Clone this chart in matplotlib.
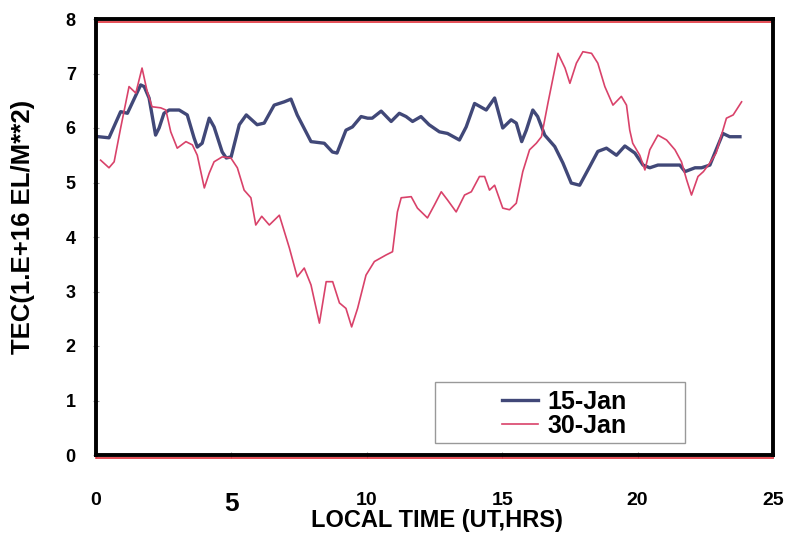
import matplotlib
matplotlib.use("Agg")
import matplotlib.pyplot as plt
from matplotlib.patches import Rectangle
from matplotlib.transforms import offset_copy

# ---- data ----
jan15_t = [0.1, 0.48, 0.91, 1.16, 1.65, 1.78, 1.96, 2.2, 2.33, 2.51, 2.7, 3.07, 3.37,
           3.62, 3.74, 3.92, 4.18, 4.36, 4.66, 4.81, 4.99, 5.29, 5.55, 5.95, 6.21,
           6.58, 6.95, 7.2, 7.43, 7.94, 8.43, 8.73, 8.9, 9.23, 9.47, 9.79, 10.03,
           10.2, 10.53, 10.9, 11.2, 11.45, 11.69, 12.0, 12.3, 12.68, 12.98, 13.42,
           13.67, 13.98, 14.41, 14.72, 15.02, 15.33, 15.52, 15.72, 15.89, 16.13,
           16.31, 16.57, 16.94, 17.24, 17.55, 17.86, 18.23, 18.53, 18.85, 19.22,
           19.53, 19.9, 20.2, 20.45, 20.75, 21.2, 21.56, 21.75, 22.12, 22.36,
           22.67, 22.9, 23.15, 23.4, 23.78]
jan15_v = [5.84, 5.82, 6.30, 6.27, 6.79, 6.76, 6.55, 5.87, 6.00, 6.27, 6.33, 6.33, 6.24,
           5.82, 5.65, 5.72, 6.18, 6.02, 5.56, 5.45, 5.47, 6.06, 6.24, 6.06, 6.09,
           6.42, 6.48, 6.53, 6.24, 5.75, 5.72, 5.56, 5.54, 5.96, 6.02, 6.21, 6.18,
           6.18, 6.31, 6.12, 6.27, 6.21, 6.12, 6.21, 6.06, 5.93, 5.90, 5.78,
           6.02, 6.45, 6.33, 6.55, 6.00, 6.15, 6.09, 5.75, 5.96, 6.33,
           6.21, 5.87, 5.66, 5.36, 4.99, 4.95, 5.29, 5.57, 5.63, 5.50,
           5.67, 5.54, 5.32, 5.27, 5.32, 5.32, 5.32, 5.20, 5.27, 5.27,
           5.32, 5.60, 5.90, 5.84, 5.84]

jan30_t = [0.17, 0.48, 0.67, 0.91, 1.22, 1.47, 1.7, 1.89, 2.07, 2.39, 2.58, 2.76, 3.0,
           3.32, 3.56, 3.74, 4.0, 4.18, 4.36, 4.66, 4.98, 5.22, 5.47, 5.72, 5.9,
           6.12, 6.4, 6.77, 7.14, 7.43, 7.69, 7.94, 8.25, 8.5, 8.74, 8.99, 9.23,
           9.44, 9.66, 9.97, 10.28, 10.71, 10.95, 11.13, 11.27, 11.64, 11.87, 12.24,
           12.5, 12.75, 12.98, 13.3, 13.61, 13.86, 14.16, 14.35, 14.53, 14.72,
           15.02, 15.27, 15.52, 15.76, 16.01, 16.26, 16.45, 16.69, 17.06, 17.32,
           17.5, 17.74, 17.98, 18.3, 18.53, 18.79, 19.09, 19.4, 19.59, 19.71,
           19.82, 20.08, 20.27, 20.45, 20.75, 21.07, 21.38, 21.62, 21.81, 21.99,
           22.23, 22.43, 22.67, 22.9, 23.15, 23.28, 23.53, 23.84]
jan30_v = [5.41, 5.27, 5.38, 6.00, 6.76, 6.64, 7.10, 6.67, 6.39, 6.37, 6.33, 5.93, 5.63,
           5.75, 5.69, 5.50, 4.90, 5.17, 5.38, 5.47, 5.45, 5.27, 4.86, 4.72, 4.22,
           4.38, 4.22, 4.40, 3.80, 3.27, 3.43, 3.12, 2.42, 3.18, 3.18, 2.79, 2.69,
           2.35, 2.69, 3.30, 3.55, 3.67, 3.73, 4.46, 4.72, 4.74, 4.53, 4.35,
           4.59, 4.83, 4.68, 4.46, 4.77, 4.83, 5.11, 5.11, 4.86, 4.95,
           4.53, 4.50, 4.62, 5.20, 5.60, 5.72, 5.84, 6.46, 7.37, 7.10,
           6.82, 7.19, 7.40, 7.37, 7.19, 6.76, 6.42, 6.58, 6.42, 5.96,
           5.72, 5.50, 5.23, 5.60, 5.87, 5.78, 5.60, 5.38, 5.05, 4.77,
           5.11, 5.20, 5.36, 5.54, 5.96, 6.18, 6.24, 6.48]

series_labels = ["15-Jan", "30-Jan"]
x_ticks = [0, 5, 10, 15, 20, 25]
y_ticks = [0, 1, 2, 3, 4, 5, 6, 7, 8]
x_label = "LOCAL TIME (UT,HRS)"
y_label = "TEC(1.E+16 EL/M**2)"

BLUE = "#414878"
RED = "#d9426a"

plt.rcParams['font.family'] = ['Liberation Sans', 'DejaVu Sans']

fig = plt.figure(figsize=(7.92, 5.42), dpi=100)
ax = fig.add_axes([96 / 792, 1 - 455 / 542, 677 / 792, 436 / 542])

ax.plot(jan15_t, jan15_v, color=BLUE, lw=2.4, label=series_labels[0],
        solid_joinstyle='round', zorder=3)
ax.plot(jan30_t, jan30_v, color=RED, lw=1.2, label=series_labels[1], zorder=4)

ax.set_xlim(0, 25)
ax.set_ylim(0, 8)

ax.set_yticks(y_ticks)
ax.set_yticklabels([str(v) for v in y_ticks], fontsize=13, fontweight='bold')
ax.set_xticks(x_ticks)
ax.set_xticklabels([str(v) for v in x_ticks])
for lab, v in zip(ax.get_xticklabels(), x_ticks):
    lab.set_fontweight('bold')
    lab.set_fontsize(19 if v == 5 else 14)

ax.tick_params(axis='y', direction='inout', length=5, width=0.8, color='#999999', pad=12)
ax.tick_params(axis='x', direction='inout', length=5, width=0.8, color='#999999', pad=24)

for s in ax.spines.values():
    s.set_linewidth(2.8)
    s.set_color('black')
    s.set_zorder(5)

# red tinge under the top and bottom frame lines
for yy in (1, 0):
    ax.plot([0, 1], [yy, yy], color='#e0303a', lw=1.2, clip_on=False, zorder=4.5,
            transform=offset_copy(ax.transAxes, fig=fig, x=0, y=-3.0, units='dots'))

ax.set_xlabel(x_label, fontweight='bold', fontsize=17)
ax.xaxis.set_label_coords(0.504, -0.124)
ax.set_ylabel(y_label, fontweight='bold', fontsize=18.5)
ax.yaxis.set_label_coords(-0.090, 0.522)

# legend box
ax.add_patch(Rectangle((0.5007, 0.0275), 0.3693, 0.1399, transform=ax.transAxes,
                       fill=False, edgecolor='#999999', lw=1.0, zorder=7))
leg = ax.legend(loc='upper left', bbox_to_anchor=(0.5997, 0.150), frameon=False,
                borderpad=0, borderaxespad=0, handlelength=1.45, handletextpad=0.35,
                labelspacing=0.0, prop={'weight': 'bold', 'size': 18})
leg.set_zorder(8)

fig.savefig("out.png", dpi=100)
